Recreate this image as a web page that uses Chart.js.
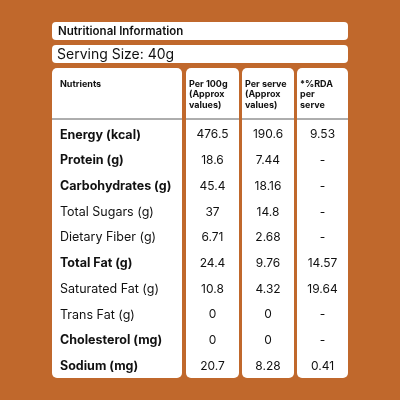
<!DOCTYPE html><html><head><script src="https://cdn.jsdelivr.net/npm/chart.js"></script>
<style>html,body{margin:0;background:#C0682C}canvas{display:block}</style></head><body>
<div style="width:400px;height:400px"><canvas id="c"></canvas></div>
<script>
const title="Nutritional Information";
const serving="Serving Size: 40g";
const headers=[["Nutrients"],["Per 100g","(Approx","values)"],["Per serve","(Approx","values)"],["*%RDA","per","serve"]];
const nutrients=["Energy (kcal)","Protein (g)","Carbohydrates (g)","Total Sugars (g)","Dietary Fiber (g)","Total Fat (g)","Saturated Fat (g)","Trans Fat (g)","Cholesterol (mg)","Sodium (mg)"];
const bold=[true,true,true,false,false,true,false,false,true,true];
const per100=["476.5","18.6","45.4","37","6.71","24.4","10.8","0","0","20.7"];
const perServe=["190.6","7.44","18.16","14.8","2.68","9.76","4.32","0","0","8.28"];
const rda=["9.53","-","-","-","-","14.57","19.64","-","-","0.41"];
const cols=[[52,182],[186,239],[242,294],[297,348]];
function rr(ctx,x,y,w,h,r){ctx.beginPath();ctx.roundRect(x,y,w,h,r);ctx.fill();}
const F='Inter, "Open Sans", sans-serif';
const plug={id:'tbl',
beforeDraw(ch){const ctx=ch.ctx;ctx.save();ctx.fillStyle='#C0682C';ctx.fillRect(0,0,400,400);
ctx.fillStyle='#fff';rr(ctx,52,22,296,18,4);rr(ctx,52,45,296,18,4);
cols.forEach(c=>rr(ctx,c[0],68,c[1]-c[0],310,5));
ctx.strokeStyle='#333';ctx.lineWidth=0.8;cols.forEach(c=>{ctx.beginPath();ctx.moveTo(c[0],119);ctx.lineTo(c[1],119);ctx.stroke();});
ctx.restore();},
afterDraw(ch){const ctx=ch.ctx,y=ch.scales.y;ctx.save();ctx.fillStyle='#111';ctx.textBaseline='middle';
ctx.font='600 11.5px '+F;ctx.fillText(title,58,31.5);
ctx.font='400 14px '+F;ctx.fillText(serving,57,54.5);
ctx.font='700 9px '+F;ctx.textAlign='left';ctx.fillText(headers[0][0],60,84);
for(let k=1;k<4;k++){headers[k].forEach((t,j)=>{ctx.fillText(t,cols[k][0]+3,84+j*10.5);});}
nutrients.forEach((n,i)=>{const py=y.getPixelForValue(i);
ctx.textAlign='left';ctx.font=(bold[i]?'700 12.5px ':'400 12.5px ')+F;ctx.fillText(n,60,py);
ctx.textAlign='center';ctx.font='400 12px '+F;
[per100,perServe,rda].forEach((a,k)=>ctx.fillText(a[i],(cols[k+1][0]+cols[k+1][1])/2,py));});
ctx.restore();}};
new Chart(document.getElementById('c'),{type:'bar',data:{labels:nutrients,datasets:[{data:[]}]},
options:{indexAxis:'y',responsive:true,maintainAspectRatio:false,animation:false,events:[],
layout:{padding:{top:122,bottom:21,left:52,right:52}},
plugins:{legend:{display:false},tooltip:{enabled:false}},
scales:{x:{display:false},y:{display:false}}},plugins:[plug]});
</script></body></html>
